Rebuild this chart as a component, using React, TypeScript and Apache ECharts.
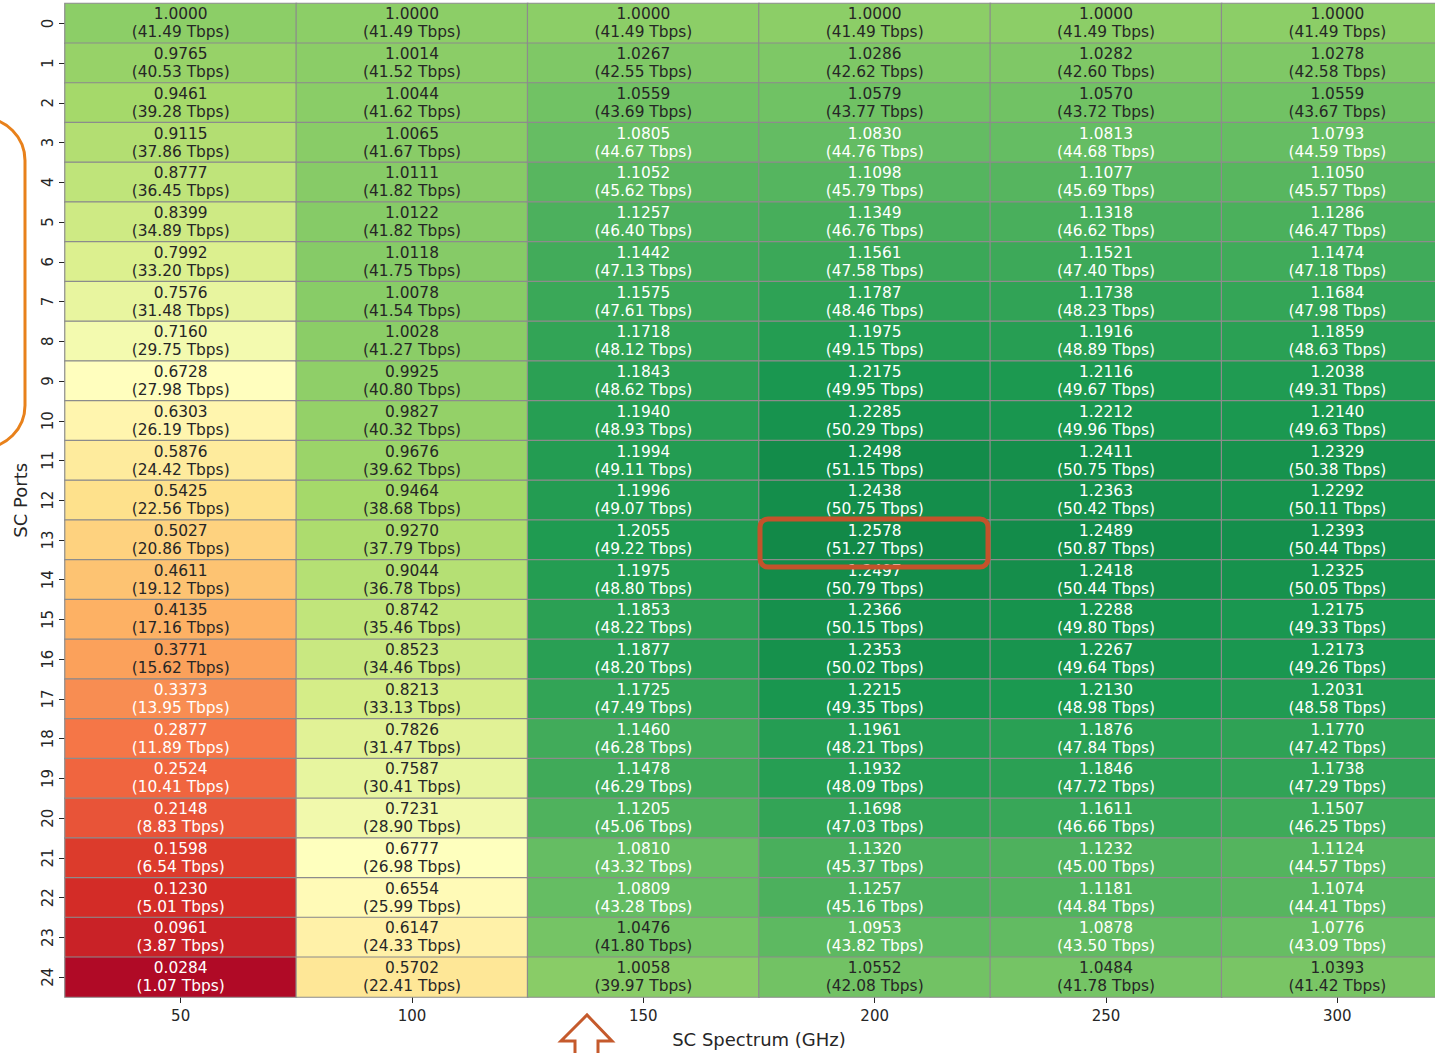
import React, { useEffect, useRef } from "react";
import * as echarts from "echarts";

const spectrum = ["50", "100", "150", "200", "250", "300"];
const ports = Array.from({ length: 25 }, (_, i) => String(i));

const ratio50 = [1.0000, 0.9765, 0.9461, 0.9115, 0.8777, 0.8399, 0.7992, 0.7576, 0.7160, 0.6728, 0.6303, 0.5876, 0.5425, 0.5027, 0.4611, 0.4135, 0.3771, 0.3373, 0.2877, 0.2524, 0.2148, 0.1598, 0.1230, 0.0961, 0.0284];
const tbps50 = [41.49, 40.53, 39.28, 37.86, 36.45, 34.89, 33.20, 31.48, 29.75, 27.98, 26.19, 24.42, 22.56, 20.86, 19.12, 17.16, 15.62, 13.95, 11.89, 10.41, 8.83, 6.54, 5.01, 3.87, 1.07];
const ratio100 = [1.0000, 1.0014, 1.0044, 1.0065, 1.0111, 1.0122, 1.0118, 1.0078, 1.0028, 0.9925, 0.9827, 0.9676, 0.9464, 0.9270, 0.9044, 0.8742, 0.8523, 0.8213, 0.7826, 0.7587, 0.7231, 0.6777, 0.6554, 0.6147, 0.5702];
const tbps100 = [41.49, 41.52, 41.62, 41.67, 41.82, 41.82, 41.75, 41.54, 41.27, 40.80, 40.32, 39.62, 38.68, 37.79, 36.78, 35.46, 34.46, 33.13, 31.47, 30.41, 28.90, 26.98, 25.99, 24.33, 22.41];
const ratio150 = [1.0000, 1.0267, 1.0559, 1.0805, 1.1052, 1.1257, 1.1442, 1.1575, 1.1718, 1.1843, 1.1940, 1.1994, 1.1996, 1.2055, 1.1975, 1.1853, 1.1877, 1.1725, 1.1460, 1.1478, 1.1205, 1.0810, 1.0809, 1.0476, 1.0058];
const tbps150 = [41.49, 42.55, 43.69, 44.67, 45.62, 46.40, 47.13, 47.61, 48.12, 48.62, 48.93, 49.11, 49.07, 49.22, 48.80, 48.22, 48.20, 47.49, 46.28, 46.29, 45.06, 43.32, 43.28, 41.80, 39.97];
const ratio200 = [1.0000, 1.0286, 1.0579, 1.0830, 1.1098, 1.1349, 1.1561, 1.1787, 1.1975, 1.2175, 1.2285, 1.2498, 1.2438, 1.2578, 1.2497, 1.2366, 1.2353, 1.2215, 1.1961, 1.1932, 1.1698, 1.1320, 1.1257, 1.0953, 1.0552];
const tbps200 = [41.49, 42.62, 43.77, 44.76, 45.79, 46.76, 47.58, 48.46, 49.15, 49.95, 50.29, 51.15, 50.75, 51.27, 50.79, 50.15, 50.02, 49.35, 48.21, 48.09, 47.03, 45.37, 45.16, 43.82, 42.08];
const ratio250 = [1.0000, 1.0282, 1.0570, 1.0813, 1.1077, 1.1318, 1.1521, 1.1738, 1.1916, 1.2116, 1.2212, 1.2411, 1.2363, 1.2489, 1.2418, 1.2288, 1.2267, 1.2130, 1.1876, 1.1846, 1.1611, 1.1232, 1.1181, 1.0878, 1.0484];
const tbps250 = [41.49, 42.60, 43.72, 44.68, 45.69, 46.62, 47.40, 48.23, 48.89, 49.67, 49.96, 50.75, 50.42, 50.87, 50.44, 49.80, 49.64, 48.98, 47.84, 47.72, 46.66, 45.00, 44.84, 43.50, 41.78];
const ratio300 = [1.0000, 1.0278, 1.0559, 1.0793, 1.1050, 1.1286, 1.1474, 1.1684, 1.1859, 1.2038, 1.2140, 1.2329, 1.2292, 1.2393, 1.2325, 1.2175, 1.2173, 1.2031, 1.1770, 1.1738, 1.1507, 1.1124, 1.1074, 1.0776, 1.0393];
const tbps300 = [41.49, 42.58, 43.67, 44.59, 45.57, 46.47, 47.18, 47.98, 48.63, 49.31, 49.63, 50.38, 50.11, 50.44, 50.05, 49.33, 49.26, 48.58, 47.42, 47.29, 46.25, 44.57, 44.41, 43.09, 41.42];

const ratios = [ratio50, ratio100, ratio150, ratio200, ratio250, ratio300];
const tbps = [tbps50, tbps100, tbps150, tbps200, tbps250, tbps300];

const colorMin = 0;
const colorMax = 1.35;
const rdylgn = ["#a50026", "#d73027", "#f46d43", "#fdae61", "#fee08b", "#ffffbf", "#d9ef8b", "#a6d96a", "#66bd63", "#1a9850", "#006837"];

const FONT = "DejaVu Sans";
const DARK = "#262626";

// light text on strongly coloured (dark) cells, dark text elsewhere
function textColorFor(v: number): string {
  return v < 0.36 || v > 1.067 ? "#ffffff" : DARK;
}

export default function App() {
  const ref = useRef<HTMLDivElement>(null);
  useEffect(() => {
    if (!ref.current) return;
    const chart = echarts.init(ref.current, undefined, { renderer: "svg" });
    const data: any[] = [];
    for (let c = 0; c < spectrum.length; c++) {
      for (let r = 0; r < ports.length; r++) {
        const v = ratios[c][r];
        data.push({ value: [c, r, v], label: { color: textColorFor(v) } });
      }
    }
    chart.setOption({
      animation: false,
      backgroundColor: "#ffffff",
      textStyle: { fontFamily: FONT },
      grid: { left: 65, top: 3.5, width: 1388, height: 996 },
      xAxis: {
        type: "category",
        data: spectrum,
        name: "SC Spectrum (GHz)",
        nameLocation: "middle",
        nameGap: 33,
        nameTextStyle: { fontFamily: FONT, fontSize: 18, color: DARK },
        axisLine: { show: false },
        axisTick: { show: true, length: 6, alignWithLabel: true, lineStyle: { color: DARK, width: 1 } },
        axisLabel: { fontFamily: FONT, fontSize: 15, color: DARK, margin: 11 },
        splitLine: { show: false },
      },
      yAxis: {
        type: "category",
        data: ports,
        inverse: true,
        name: "SC Ports",
        nameLocation: "middle",
        nameGap: 36,
        nameRotate: 90,
        nameTextStyle: { fontFamily: FONT, fontSize: 18, color: DARK },
        axisLine: { show: false },
        axisTick: { show: true, length: 6, alignWithLabel: true, lineStyle: { color: DARK, width: 1 } },
        axisLabel: { fontFamily: FONT, fontSize: 15, color: DARK, rotate: 90, margin: 10 },
        splitLine: { show: false },
      },
      visualMap: {
        type: "continuous",
        show: false,
        min: colorMin,
        max: colorMax,
        dimension: 2,
        inRange: { color: rdylgn },
      },
      series: [
        {
          type: "heatmap",
          data,
          itemStyle: { borderColor: "#8c8c8c", borderWidth: 1.2 },
          emphasis: { disabled: true },
          label: {
            show: true,
            fontFamily: FONT,
            fontSize: 15.4,
            lineHeight: 18,
            formatter: (p: any) => {
              const c = p.value[0];
              const r = p.value[1];
              return `${ratios[c][r].toFixed(4)}\n(${tbps[c][r].toFixed(2)} Tbps)`;
            },
          },
        },
      ],
      graphic: [
        {
          type: "rect",
          z: 100,
          shape: { x: -60, y: 118, width: 85, height: 330, r: 45 },
          style: { fill: "none", stroke: "#e8811b", lineWidth: 3 },
        },
        {
          type: "rect",
          z: 100,
          shape: { x: 760, y: 519, width: 228, height: 48, r: 8 },
          style: { fill: "none", stroke: "#c4532b", lineWidth: 5 },
        },
        {
          type: "polyline",
          z: 100,
          shape: {
            points: [
              [575, 1060],
              [575, 1041],
              [561, 1041],
              [587, 1015],
              [612, 1041],
              [598, 1041],
              [598, 1060],
            ],
          },
          style: { fill: "none", stroke: "#c55a2c", lineWidth: 3, lineJoin: "miter" },
        },
      ],
    });
    return () => chart.dispose();
  }, []);
  return (
    <div
      style={{
        position: "fixed",
        left: 0,
        top: 0,
        width: 1435,
        height: 1053,
        overflow: "hidden",
        background: "#ffffff",
      }}
    >
      <div ref={ref} style={{ width: 1453, height: 1053 }} />
    </div>
  );
}
